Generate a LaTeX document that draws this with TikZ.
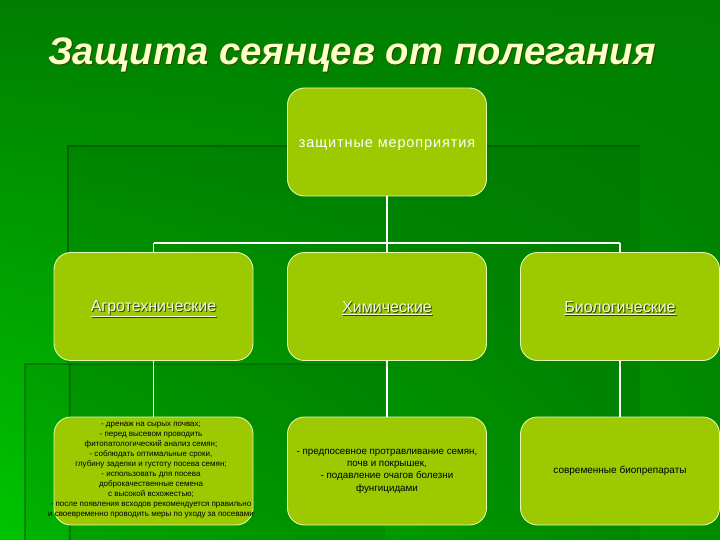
\documentclass[tikz,border=0pt]{standalone}
\usepackage{fontspec}
\setmainfont{Liberation Sans}
\usetikzlibrary{positioning,shadings}
\definecolor{bgdark}{HTML}{007E00}
\definecolor{bgmid}{HTML}{008C00}
\definecolor{bgbright}{HTML}{00C400}
\definecolor{deco}{HTML}{006400}
\definecolor{boxfill}{HTML}{9CC900}
\definecolor{boxline}{HTML}{E4F8B0}
\definecolor{titlecol}{HTML}{FFFFC8}
\definecolor{shadowcol}{HTML}{2A4A00}
\definecolor{labelcol}{HTML}{F4F4E4}
\newcommand{\shtext}[2]{\rlap{\raisebox{-#2}[0pt][0pt]{\hspace*{#2}\textcolor{shadowcol}{#1}}}#1}
\tikzset{
  x=1pt, y=-1pt,
  box/.style={draw=boxline, line width=0.9pt, fill=boxfill, rounded corners=17pt,
    minimum width=199pt, minimum height=108pt, inner sep=0pt},
  conn/.style={draw=white, line width=1.6pt},
  decoline/.style={draw=deco, line width=2.5pt},
  decofill/.style={fill=black, fill opacity=0.07},
  lbl/.style={font=\fontsize{16}{19}\selectfont, text=labelcol, inner sep=0pt},
  small/.style={font=\fontsize{9.8}{12.3}\selectfont, text=black, align=center, inner sep=0pt},
  tiny/.style={font=\fontsize{8}{10}\selectfont, text=black, align=center, inner sep=0pt},
}
\begin{document}
\begin{tikzpicture}
\useasboundingbox (0,0) rectangle (720,540);
\shade[upper left=bgdark, upper right=bgdark, lower left=bgbright, lower right=bgmid]
  (0,0) rectangle (720,540);
% template decoration panels and lines
\fill[decofill] (68,146) rectangle (640,540);
\fill[decofill] (25,364) rectangle (385,540);
\draw[decoline] (640,146) -- (68,146) -- (68,362);
\draw[decoline, draw opacity=0.6] (385,364) -- (25,364) -- (25,540);
\draw[decoline, draw opacity=0.6] (70,364) -- (70,540);
% title
\node[anchor=base west, inner sep=0pt, text=titlecol, font=\fontsize{38.3}{42}\bfseries\itshape\selectfont] (title) at (48,65) {\shtext{Защита сеянцев от полегания}{1pt}};
% boxes
\node[box] (top) at (387,142) {};
\node[box] (agro) at (153.5,306.5) {};
\node[box] (chem) at (387,306.5) {};
\node[box] (bio) at (620,306.5) {};
\node[box] (agroD) at (153.5,471) {};
\node[box] (chemD) at (387,471) {};
\node[box] (bioD) at (620,471) {};
% connectors
\coordinate (busL) at (153.5,243);
\coordinate (busR) at (620,243);
\draw[conn] (top.south) -- (top.south |- busL);
\draw[conn] (busL) -- (busR);
\draw[conn] (busL) -- (agro.north);
\draw[conn] (top.south |- busL) -- (chem.north);
\draw[conn] (busR) -- (bio.north);
\draw[conn] (agro.south) -- (agroD.north);
\draw[conn] (chem.south) -- (chemD.north);
\draw[conn] (bio.south) -- (bioD.north);
% texts
\node[font=\fontsize{14.5}{17}\selectfont\addfontfeatures{LetterSpace=6}, text=white, inner sep=0pt] (topT) at (387,145) {защитные мероприятия};
\node[lbl] (agroT) at (153.5,308.5) {\shtext{\underline{Агротехнические}}{1pt}};
\node[lbl] (chemT) at (387,308.5) {\shtext{\underline{Химические}}{1pt}};
\node[lbl] (bioT) at (620,308.5) {\shtext{\underline{Биологические}}{1pt}};
\node[tiny] (agroDT) at (151,470) {- дренаж на сырых почвах;\\- перед высевом проводить\\фитопатологический анализ семян;\\- соблюдать оптимальные сроки,\\глубину заделки и густоту посева семян;\\- использовать для посева\\доброкачественные семена\\с высокой всхожестью;\\- после появления всходов рекомендуется правильно\\и своевременно проводить меры по уходу за посевами};
\node[small] (chemDT) at (387,471) {- предпосевное протравливание семян,\\почв и покрышек,\\- подавление очагов болезни\\фунгицидами};
\node[small, font=\fontsize{10}{12}\selectfont] (bioDT) at (620,471) {современные биопрепараты};
\end{tikzpicture}
\end{document}
